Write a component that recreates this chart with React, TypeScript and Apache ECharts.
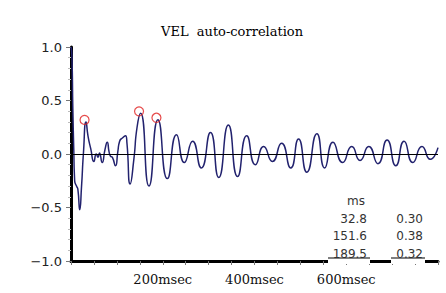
import React, { useEffect, useRef } from "react";
import * as echarts from "echarts";

const titleText = "VEL  auto-correlation";
const timeMs = [
  0, 2, 4, 6, 8, 12, 15, 19, 23, 27, 32.8, 37, 43, 50, 55, 59, 62, 68, 74, 79,
  83, 86, 90, 97, 102, 106, 112, 119, 122, 129, 137, 144, 151.6,
  170, 189.5, 210, 230, 247, 265, 284, 304, 322, 343, 363, 383, 402, 420, 439,
  459, 479, 496, 514, 536, 553, 571, 592, 612, 630, 649, 669, 689, 708, 726,
  745, 765, 783, 800,
];
const corrValues = [
  1.0, 0.92, 0.42, 0.05, -0.25, -0.3, -0.33, -0.52, -0.3, 0.0, 0.3, 0.17, 0.05,
  -0.07, 0.0, -0.03, 0.01, -0.08, 0.04, 0.11, 0.02, -0.02, -0.03, -0.11, 0.02,
  0.12, 0.15, 0.17, 0.1, -0.28, -0.05, 0.25, 0.38,
  -0.3, 0.32, -0.23, 0.18, -0.08, 0.12, -0.13, 0.2, -0.22, 0.27, -0.21, 0.17,
  -0.1, 0.07, -0.07, 0.1, -0.13, 0.14, -0.17, 0.19, -0.13, 0.11, -0.08, 0.07,
  -0.06, 0.07, -0.09, 0.13, -0.11, 0.12, -0.08, 0.07, -0.05, 0.06,
];
const peakMs = [32.8, 151.6, 189.5];
const peakValues = [0.3, 0.38, 0.32];
const peakMsLabels = ["32.8", "151.6", "189.5"];
const peakValueLabels = ["0.30", "0.38", "0.32"];
const xLabelTicks = [200, 400, 600];

export default function App() {
  const ref = useRef<HTMLDivElement>(null);
  useEffect(() => {
    if (!ref.current) return;
    const chart = echarts.init(ref.current, null, { renderer: "svg" });
    const lineData = timeMs.map((t, i) => [t, corrValues[i]]);
    const peakData = peakMs.map((t, i) => [t, peakValues[i]]);
    const rowY = [218.5, 236, 253.5];
    const tableText = (text: string, right: number, y: number) => ({
      type: "text",
      z: 101,
      x: right,
      y,
      style: {
        text,
        fill: "#333",
        font: '12px "DejaVu Sans"',
        textAlign: "right",
        textVerticalAlign: "middle",
      },
    });
    const graphics: any[] = [
      { type: "rect", z: 100, shape: { x: 328, y: 259, width: 42, height: 5 }, style: { fill: "#fff" } },
      { type: "rect", z: 100, shape: { x: 391, y: 259, width: 34, height: 5 }, style: { fill: "#fff" } },
      { type: "line", z: 101, shape: { x1: 328, y1: 258, x2: 370, y2: 258 }, style: { stroke: "#000", lineWidth: 1.2 } },
      { type: "line", z: 101, shape: { x1: 391, y1: 258, x2: 425, y2: 258 }, style: { stroke: "#000", lineWidth: 1.2 } },
      {
        type: "text",
        z: 101,
        x: 356,
        y: 201,
        style: { text: "ms", fill: "#333", font: '12px "DejaVu Sans"', textAlign: "center", textVerticalAlign: "middle" },
      },
    ];
    peakMsLabels.forEach((s, i) => graphics.push(tableText(s, 367, rowY[i])));
    peakValueLabels.forEach((s, i) => graphics.push(tableText(s, 423, rowY[i])));

    chart.setOption({
      animation: false,
      backgroundColor: "#fff",
      title: {
        text: titleText,
        left: 156,
        top: 20,
        textStyle: { fontFamily: "DejaVu Serif", fontSize: 13, fontWeight: "normal", color: "#000" },
      },
      grid: { left: 71, right: 8, top: 47, bottom: 32 },
      xAxis: {
        type: "value",
        min: 0,
        max: 800,
        interval: 50,
        splitLine: { show: false },
        axisLine: { show: true, onZero: false, lineStyle: { color: "#000", width: 3 } },
        axisTick: { show: true, length: 4, lineStyle: { color: "#777" } },
        axisLabel: {
          margin: 12,
          fontFamily: "DejaVu Serif",
          fontSize: 13,
          color: "#111",
          formatter: (v: number) => (xLabelTicks.includes(v) ? `${v}msec` : ""),
        },
      },
      yAxis: {
        type: "value",
        min: -1,
        max: 1,
        interval: 0.5,
        splitLine: { show: false },
        axisLine: { show: true, onZero: false, lineStyle: { color: "#000", width: 3 } },
        axisTick: { show: true, length: 5, lineStyle: { color: "#777" } },
        minorTick: { show: true, splitNumber: 5, length: 3, lineStyle: { color: "#bbb" } },
        axisLabel: {
          margin: 9,
          fontFamily: "DejaVu Sans",
          fontSize: 13,
          color: "#222",
          formatter: (v: number) => (v < 0 ? "\u2212" + Math.abs(v).toFixed(1) : v.toFixed(1)),
        },
      },
      series: [
        {
          type: "line",
          data: lineData,
          smooth: 0.6,
          showSymbol: false,
          lineStyle: { color: "#22226e", width: 1.5 },
          markLine: {
            silent: true,
            symbol: "none",
            label: { show: false },
            lineStyle: { color: "#000", width: 1, type: "solid" },
            data: [{ yAxis: 0 }],
          },
          z: 3,
        },
        {
          type: "scatter",
          data: peakData,
          symbol: "circle",
          symbolSize: 9,
          symbolOffset: [-1.5, -2],
          itemStyle: { color: "rgba(0,0,0,0)", borderColor: "#e02020", borderWidth: 1.2 },
          z: 4,
        },
      ],
      graphic: graphics,
    });
    return () => chart.dispose();
  }, []);
  return <div ref={ref} style={{ position: "fixed", left: 0, top: 0, width: 446, height: 293 }} />;
}
